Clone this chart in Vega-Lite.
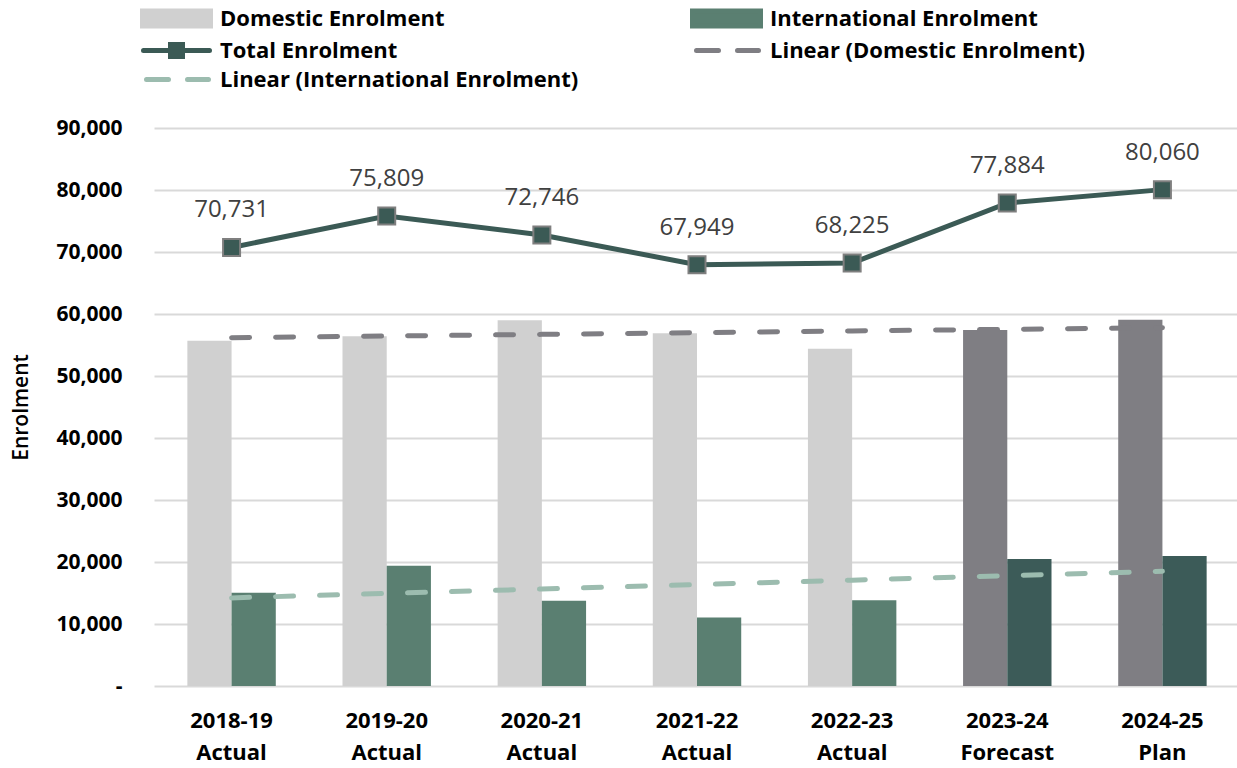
{
  "$schema": "https://vega.github.io/schema/vega-lite/v6.json",
  "width": 1086,
  "height": 558,
  "autosize": {"type": "none"},
  "padding": {"left": 154, "top": 128, "right": 0, "bottom": 82},
  "background": "white",
  "config": {"view": {"stroke": null}, "font": "Open Sans"},
  "datasets": {
    "bars": [
      {"period": "2018-19 Actual", "series": "Domestic Enrolment", "phase": "Actual", "value": 55700},
      {"period": "2018-19 Actual", "series": "International Enrolment", "phase": "Actual", "value": 15031},
      {"period": "2019-20 Actual", "series": "Domestic Enrolment", "phase": "Actual", "value": 56400},
      {"period": "2019-20 Actual", "series": "International Enrolment", "phase": "Actual", "value": 19409},
      {"period": "2020-21 Actual", "series": "Domestic Enrolment", "phase": "Actual", "value": 59000},
      {"period": "2020-21 Actual", "series": "International Enrolment", "phase": "Actual", "value": 13746},
      {"period": "2021-22 Actual", "series": "Domestic Enrolment", "phase": "Actual", "value": 56900},
      {"period": "2021-22 Actual", "series": "International Enrolment", "phase": "Actual", "value": 11049},
      {"period": "2022-23 Actual", "series": "Domestic Enrolment", "phase": "Actual", "value": 54400},
      {"period": "2022-23 Actual", "series": "International Enrolment", "phase": "Actual", "value": 13825},
      {"period": "2023-24 Forecast", "series": "Domestic Enrolment", "phase": "Forecast", "value": 57420},
      {"period": "2023-24 Forecast", "series": "International Enrolment", "phase": "Forecast", "value": 20464},
      {"period": "2024-25 Plan", "series": "Domestic Enrolment", "phase": "Plan", "value": 59090},
      {"period": "2024-25 Plan", "series": "International Enrolment", "phase": "Plan", "value": 20970}
    ],
    "totals": [
      {"period": "2018-19 Actual", "series": "Total Enrolment", "value": 70731},
      {"period": "2019-20 Actual", "series": "Total Enrolment", "value": 75809},
      {"period": "2020-21 Actual", "series": "Total Enrolment", "value": 72746},
      {"period": "2021-22 Actual", "series": "Total Enrolment", "value": 67949},
      {"period": "2022-23 Actual", "series": "Total Enrolment", "value": 68225},
      {"period": "2023-24 Forecast", "series": "Total Enrolment", "value": 77884},
      {"period": "2024-25 Plan", "series": "Total Enrolment", "value": 80060}
    ],
    "trend": [
      {"period": "2018-19 Actual", "series": "Linear (Domestic Enrolment)", "value": 56172},
      {"period": "2019-20 Actual", "series": "Linear (Domestic Enrolment)", "value": 56443},
      {"period": "2020-21 Actual", "series": "Linear (Domestic Enrolment)", "value": 56715},
      {"period": "2021-22 Actual", "series": "Linear (Domestic Enrolment)", "value": 56987},
      {"period": "2022-23 Actual", "series": "Linear (Domestic Enrolment)", "value": 57259},
      {"period": "2023-24 Forecast", "series": "Linear (Domestic Enrolment)", "value": 57531},
      {"period": "2024-25 Plan", "series": "Linear (Domestic Enrolment)", "value": 57802},
      {"period": "2018-19 Actual", "series": "Linear (International Enrolment)", "value": 14213},
      {"period": "2019-20 Actual", "series": "Linear (International Enrolment)", "value": 14927},
      {"period": "2020-21 Actual", "series": "Linear (International Enrolment)", "value": 15642},
      {"period": "2021-22 Actual", "series": "Linear (International Enrolment)", "value": 16356},
      {"period": "2022-23 Actual", "series": "Linear (International Enrolment)", "value": 17071},
      {"period": "2023-24 Forecast", "series": "Linear (International Enrolment)", "value": 17785},
      {"period": "2024-25 Plan", "series": "Linear (International Enrolment)", "value": 18500}
    ]
  },
  "layer": [
    {
      "data": {"name": "bars"},
      "mark": {"type": "bar"},
      "encoding": {
        "x": {
          "field": "period", "type": "nominal",
          "scale": {"paddingInner": 0.43, "paddingOuter": 0.215},
          "axis": {
            "title": null, "labelExpr": "split(datum.value, ' ')", "labelAngle": 0,
            "labelFontSize": 22, "labelFontWeight": "bold", "labelColor": "#000000",
            "ticks": false, "domain": false, "labelPadding": 24, "labelLineHeight": 32
          }
        },
        "xOffset": {
          "field": "series", "sort": ["Domestic Enrolment", "International Enrolment"],
          "scale": {"paddingInner": 0, "paddingOuter": 0}
        },
        "y": {
          "field": "value", "type": "quantitative",
          "scale": {"domain": [0, 90000], "nice": false},
          "axis": {
            "values": [0, 10000, 20000, 30000, 40000, 50000, 60000, 70000, 80000, 90000],
            "labelExpr": "datum.value == 0 ? '-' : format(datum.value, ',')",
            "title": "Enrolment", "grid": true, "gridColor": "#d9d9d9", "gridWidth": 2,
            "domain": false, "ticks": false, "labelFontSize": 21, "labelFontWeight": "bold",
            "labelColor": "#000000", "labelPadding": 32, "titleFontSize": 21, "titleFontWeight": 600,
            "titleColor": "#000000", "titlePadding": 24,
            "encode": {"labels": {"update": {"dx": {"signal": "datum.value == 0 ? -11 : 0"}}}}
          }
        },
        "color": {
          "field": "series", "type": "nominal",
          "scale": {
            "domain": ["Domestic Enrolment", "International Enrolment", "Total Enrolment", "Linear (Domestic Enrolment)", "Linear (International Enrolment)"],
            "range": ["#d0d0d0", "#5a7f71", "#3b5a55", "#7f7e83", "#9cbcaf"]
          },
          "condition": [
            {"test": "datum.phase != 'Actual' && datum.series == 'Domestic Enrolment'", "value": "#7f7e83"},
            {"test": "datum.phase != 'Actual' && datum.series == 'International Enrolment'", "value": "#3c5b58"}
          ],
          "legend": {
            "orient": "none", "legendX": -14, "legendY": -122, "columns": 2, "direction": "horizontal", "title": null,
            "columnPadding": 103, "rowPadding": -2, "padding": 0,
            "labelFontSize": 22, "labelFontWeight": "bold", "labelColor": "#000000", "labelLimit": 600,
            "symbolSize": 400, "labelOffset": 55,
            "encode": {
              "symbols": {
                "update": {
                  "shape": {"signal": "datum.value == 'Total Enrolment' ? 'M-0.9,0H5.7M1.8,-0.6H3.0V0.6H1.8Z' : (indexof(datum.value, 'Linear') == 0 ? 'M-0.6,0H1.6M3.5,0H5.6' : 'M-1,-0.75H5.8V0.75H-1Z')"},
                  "fill": {"signal": "indexof(datum.value, 'Linear') == 0 ? 'transparent' : scale('color', datum.value)"},
                  "stroke": {"signal": "datum.value == 'Total Enrolment' || indexof(datum.value, 'Linear') == 0 ? scale('color', datum.value) : 'transparent'"},
                  "strokeWidth": {"value": 5},
                  "strokeCap": {"value": "round"},
                  "opacity": {"value": 1},
                  "fillOpacity": {"value": 1},
                  "strokeOpacity": {"value": 1}
                }
              }
            }
          }
        }
      }
    },
    {
      "data": {"name": "trend"},
      "mark": {"type": "line", "strokeWidth": 5, "strokeDash": [18, 26], "strokeCap": "round"},
      "encoding": {
        "x": {"field": "period", "type": "nominal"},
        "y": {"field": "value", "type": "quantitative"},
        "color": {"field": "series", "type": "nominal"}
      }
    },
    {
      "data": {"name": "totals"},
      "mark": {"type": "line", "strokeWidth": 5},
      "encoding": {
        "x": {"field": "period", "type": "nominal"},
        "y": {"field": "value", "type": "quantitative"},
        "color": {"field": "series", "type": "nominal"}
      }
    },
    {
      "data": {"name": "totals"},
      "mark": {"type": "square", "size": 289, "fill": "#3b5a55", "stroke": "#7f7f7f", "strokeWidth": 2, "opacity": 1, "filled": true},
      "encoding": {
        "x": {"field": "period", "type": "nominal"},
        "y": {"field": "value", "type": "quantitative"}
      }
    },
    {
      "data": {"name": "totals"},
      "mark": {"type": "text", "dy": -37, "fontSize": 24, "color": "#404040", "baseline": "middle"},
      "encoding": {
        "x": {"field": "period", "type": "nominal"},
        "y": {"field": "value", "type": "quantitative"},
        "text": {"field": "value", "type": "quantitative", "format": ","}
      }
    }
  ]
}
